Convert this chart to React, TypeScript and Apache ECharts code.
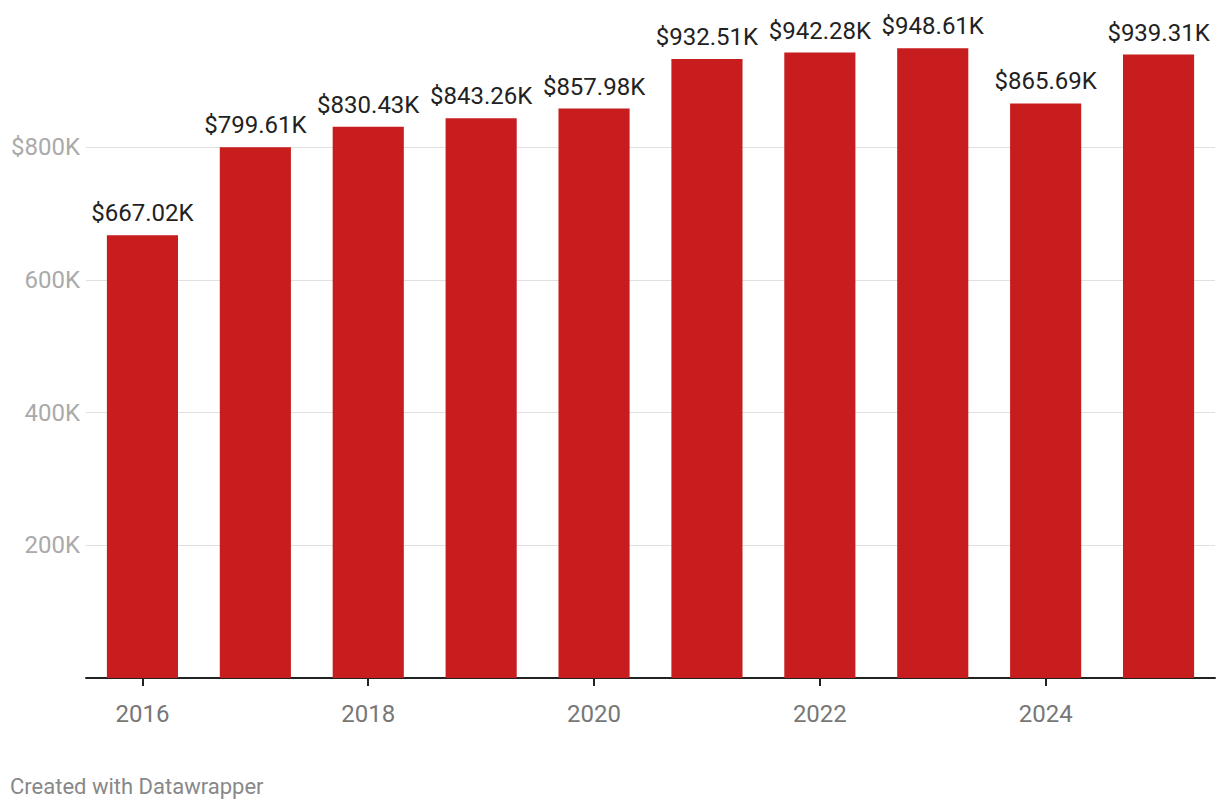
import React, { useEffect, useRef } from "react";
import * as echarts from "echarts";

const years = ["2016", "2017", "2018", "2019", "2020", "2021", "2022", "2023", "2024", "2025"];
const values = [667.02, 799.61, 830.43, 843.26, 857.98, 932.51, 942.28, 948.61, 865.69, 939.31];
const yTicks = [0, 200, 400, 600, 800, 1000];

export default function App() {
  const ref = useRef<HTMLDivElement>(null);
  useEffect(() => {
    if (!ref.current) return;
    const chart = echarts.init(ref.current, undefined, { renderer: "svg" });
    chart.setOption({
      animation: false,
      textStyle: { fontFamily: "Roboto" },
      grid: { left: 86, right: 5, top: 14.25, bottom: 132, containLabel: false },
      xAxis: {
        type: "category",
        data: years,
        axisLine: { lineStyle: { color: "#222", width: 2 } },
        axisTick: { show: true, alignWithLabel: true, interval: 1, length: 8, lineStyle: { color: "#222", width: 2 } },
        axisLabel: { interval: 1, color: "#777", fontSize: 24, margin: 24, fontFamily: "Roboto" },
      },
      yAxis: {
        type: "value",
        min: yTicks[0],
        max: yTicks[yTicks.length - 1],
        interval: 200,
        axisLine: { show: false },
        axisTick: { show: false },
        axisLabel: {
          color: "#aaa",
          fontSize: 24,
          margin: 6,
          fontFamily: "Roboto",
          formatter: (v: number) => (v === 0 || v === 1000 ? "" : v === 800 ? "$800K" : v + "K"),
        },
        splitLine: {
          show: true,
          lineStyle: { color: ["transparent", "#e0e0e0", "#e0e0e0", "#e0e0e0", "#e0e0e0", "transparent"], width: 1 },
        },
      },
      series: [
        {
          type: "bar",
          data: values,
          barWidth: "63%",
          itemStyle: { color: "#c71d1e" },
          label: {
            show: true,
            position: "top",
            distance: 10,
            color: "#222",
            fontSize: 24,
            fontFamily: "Roboto",
            formatter: (p: any) => "$" + p.value.toFixed(2) + "K",
          },
        },
      ],
      graphic: [
        {
          type: "text",
          left: 10,
          top: 775,
          style: { text: "Created with Datawrapper", fill: "#888", fontSize: 22, fontFamily: "Roboto" },
        },
      ],
    });
    return () => chart.dispose();
  }, []);
  return <div ref={ref} style={{ position: "absolute", left: 0, top: 0, width: 1220, height: 810 }} />;
}
